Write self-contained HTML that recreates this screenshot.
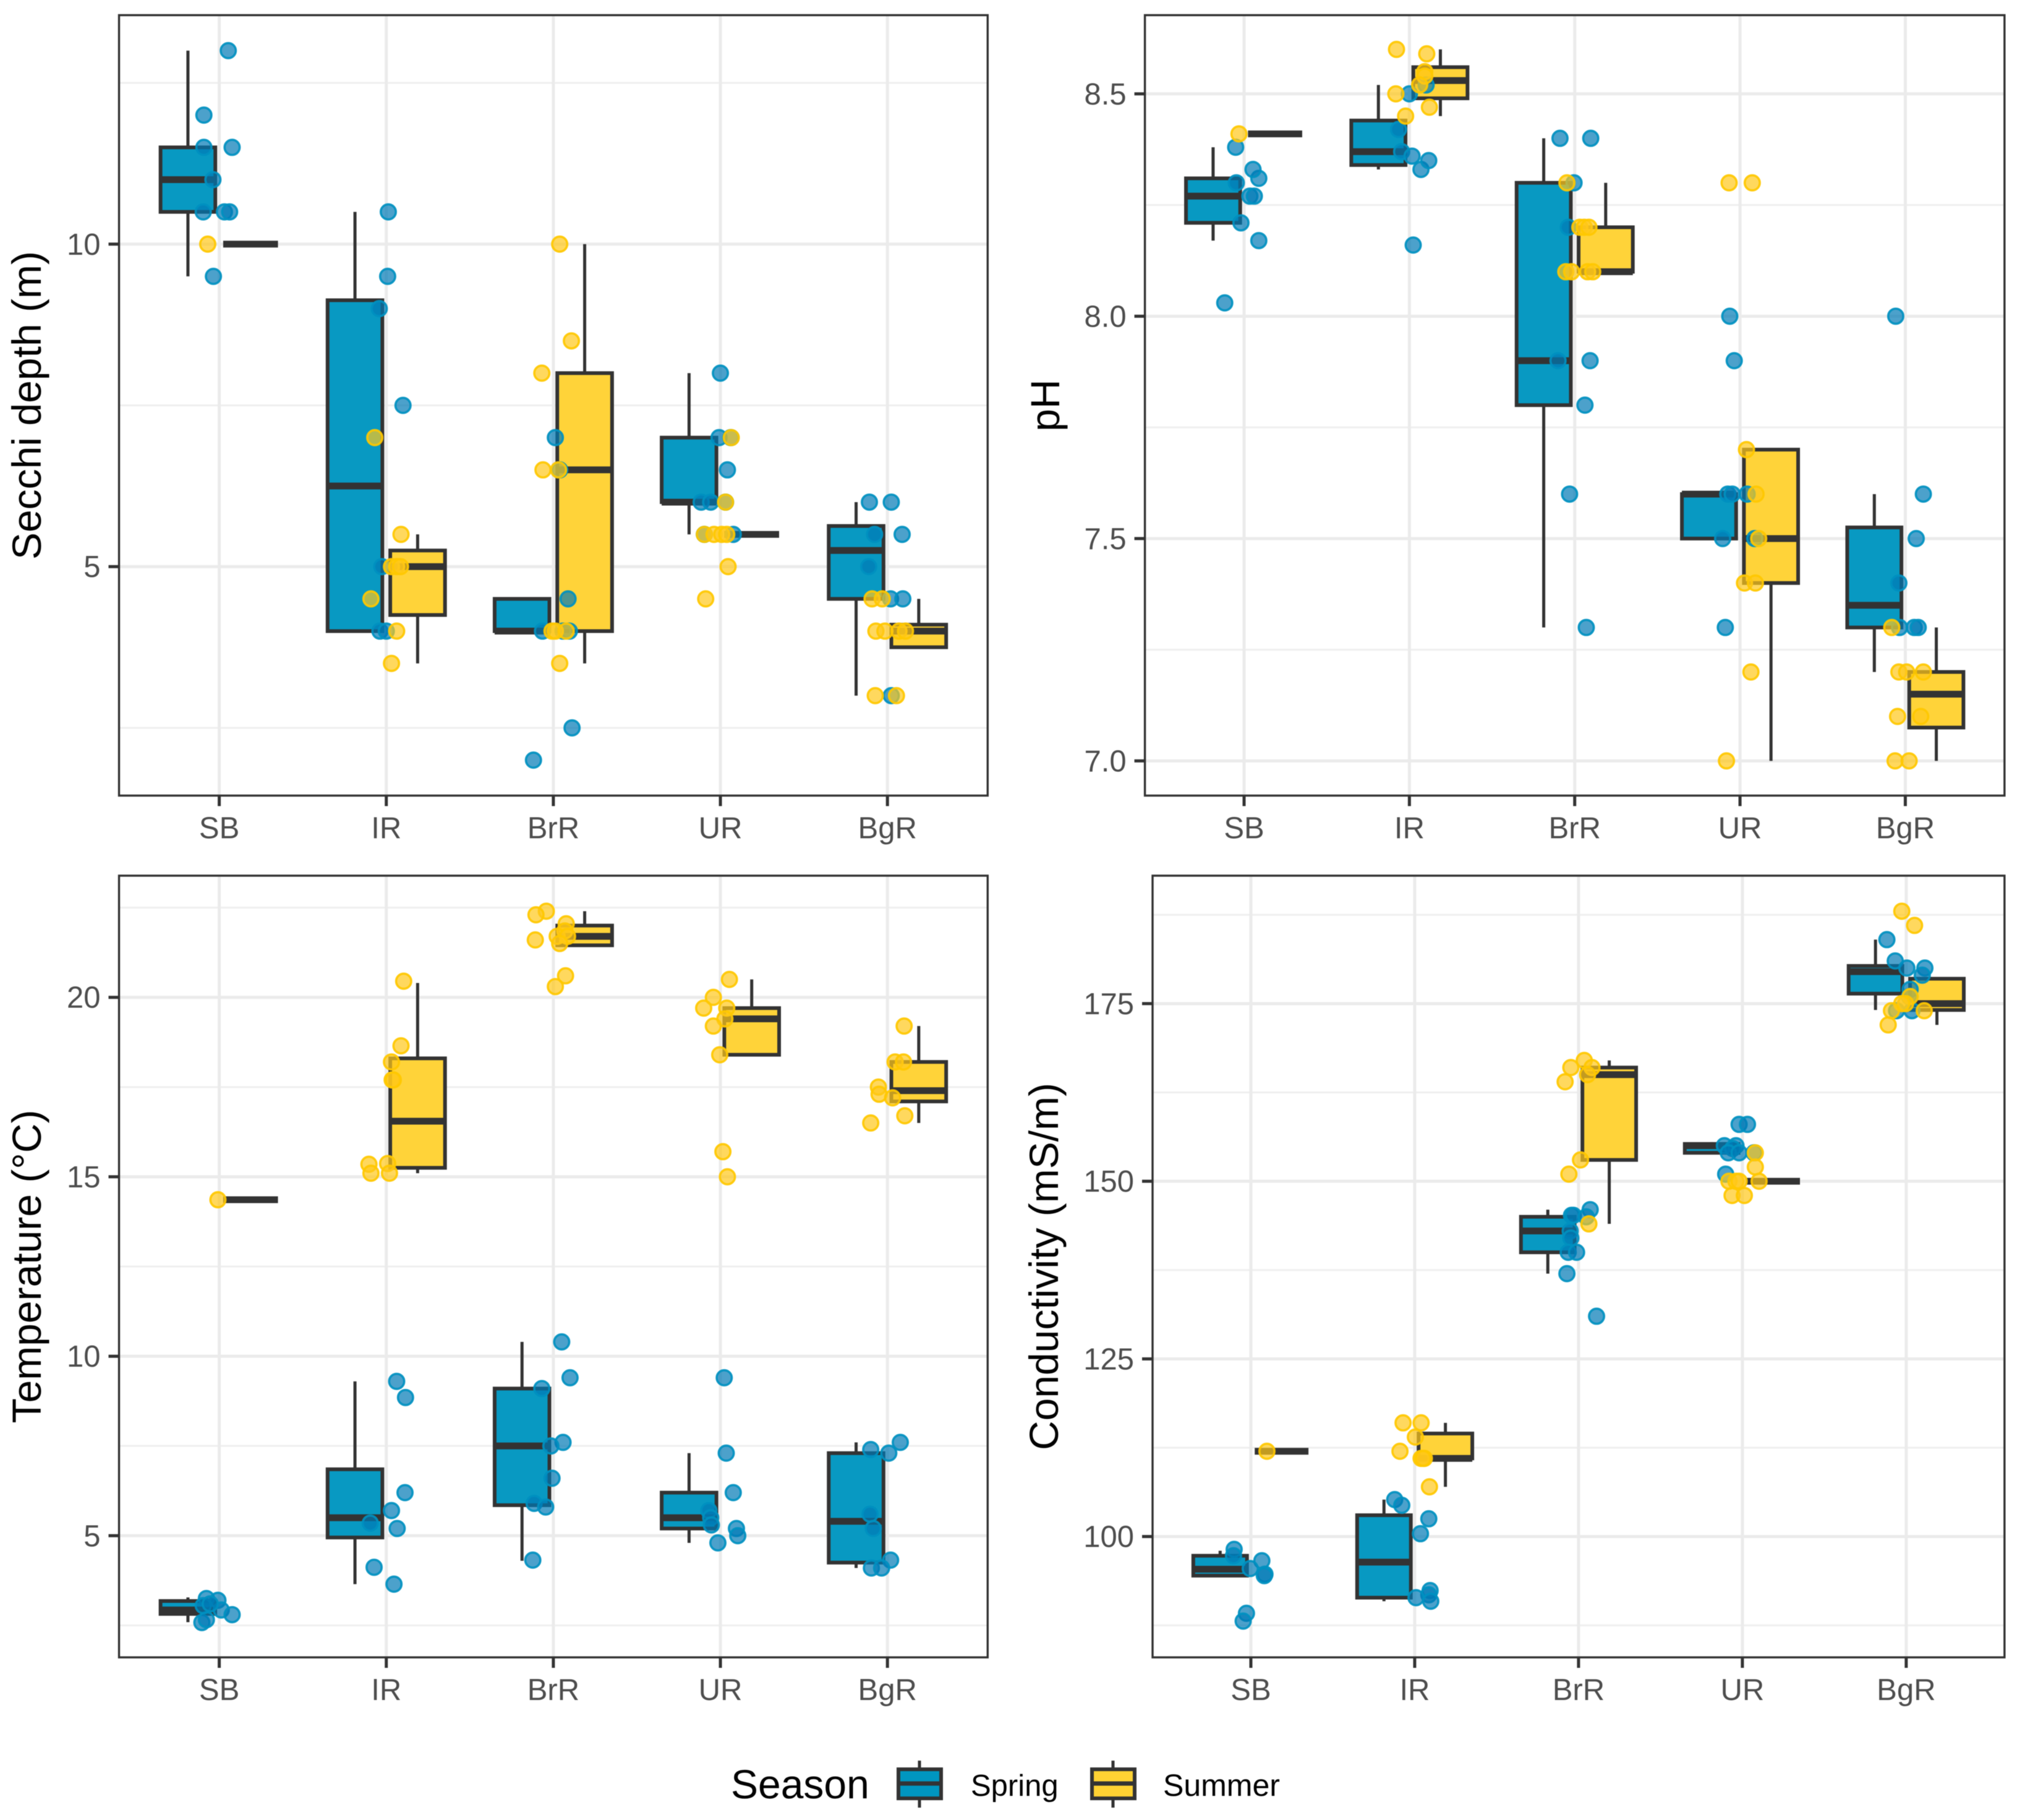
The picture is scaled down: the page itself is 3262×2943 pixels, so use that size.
<!DOCTYPE html>
<html lang="en">
<head>
<meta charset="utf-8">
<title>Water quality by reach and season</title>
<style>
html,body{margin:0;padding:0;background:#fff;}
svg{display:block;filter:blur(0.6px);}
text{font-family:"Liberation Sans",Arial,sans-serif;}
</style>
</head>
<body>
<svg id="chart" xmlns="http://www.w3.org/2000/svg" width="3262" height="2943" viewBox="0 0 3262 2943">
  <rect x="0" y="0" width="3262" height="2943" fill="#ffffff"/>
  <g id="panels"></g>
  <g>
    <text x="1182" y="2908" font-size="66" fill="#000">Season</text>
    <g>
      <line x1="1487" x2="1487" y1="2847" y2="2923" stroke="#333" stroke-width="5"/>
      <rect x="1453" y="2861" width="69" height="47" fill="#0096C0" stroke="#333" stroke-width="6"/>
      <line x1="1453" x2="1522" y1="2884" y2="2884" stroke="#333" stroke-width="7"/>
      <text x="1570" y="2904" font-size="49" fill="#000">Spring</text>
    </g>
    <g>
      <line x1="1800" x2="1800" y1="2847" y2="2923" stroke="#333" stroke-width="5"/>
      <rect x="1766" y="2861" width="69" height="47" fill="#FFD233" stroke="#333" stroke-width="6"/>
      <line x1="1766" x2="1835" y1="2884" y2="2884" stroke="#333" stroke-width="7"/>
      <text x="1881" y="2904" font-size="50" fill="#000">Summer</text>
    </g>
  </g>
</svg>
<script>
const categories = ['SB','IR','BrR','UR','BgR'];

/* Secchi depth */
const secchiDomain = [1.45, 13.55];
const secchiMajorTicks = [5, 10];
const secchiTickLabels = ['5', '10'];
const secchiMinorTicks = [2.5, 7.5, 12.5];
/* box stats per category: [low whisker, q1, median, q3, high whisker] */
const secchiSpringBox = [[9.5,10.5,11,11.5,13],[4,4,6.25,9.13,10.5],[4,4,4,4.5,4.5],[5.5,6,6,7,8],[3,4.5,5.25,5.63,6]];
const secchiSummerBox = [[10,10,10,10,10],[3.5,4.25,5,5.25,5.5],[3.5,4,6.5,8,10],[5.5,5.5,5.5,5.5,5.5],[3.75,3.75,4,4.1,4.5]];
const secchiSpringX = [1.054,.908,.908,1.077,.962,.904,1.031,1.062,.965, 2.012,2.008,1.958,2.1,1.973,1.962,2, 2.881,3.112,3.088,3.012,3.038,2.935,3.096,3.058, 4,3.992,4.062,4.042,3.885,3.942,4.031,3.904,4.077, 4.892,5.023,4.923,5.088,4.888,5.019,5.092,5.023];
const secchiSpringY = [13,12,11.5,11.5,11,10.5,10.5,10.5,9.5, 10.5,9.5,9,7.5,5,4,4, 2,2.5,4.5,7,6.5,4,4,4, 8,7,7,6.5,6,6,6,5.5,5.5, 6,6,5.5,5.5,5,4.5,4.5,3];
const secchiSummerX = [.931, 1.931,2.088,1.908,2.031,2.062,2.085,2.062,2.031, 3.038,3.108,2.931,2.938,3.031,2.992,3.012,3.077,3.038, 4.065,4.031,3.904,3.962,4.008,4.038,4.046,3.912, 4.908,4.969,4.931,4.985,5.069,5.108,4.927,5.054];
const secchiSummerY = [10, 7,5.5,4.5,5,5,5,4,3.5, 10,8.5,8,6.5,6.5,4,4,4,3.5, 7,6,5.5,5.5,5.5,5.5,5,4.5, 4.5,4.5,4,4,4,4,3,3];

/* pH */
const phDomain = [6.922, 8.677];
const phMajorTicks = [7, 7.5, 8, 8.5];
const phTickLabels = ['7.0', '7.5', '8.0', '8.5'];
const phMinorTicks = [7.25, 7.75, 8.25];
const phSpringBox = [[8.17,8.21,8.27,8.31,8.38],[8.33,8.34,8.37,8.44,8.52],[7.3,7.8,7.9,8.3,8.4],[7.5,7.5,7.6,7.6,7.6],[7.2,7.3,7.35,7.525,7.6]];
const phSummerBox = [[8.41,8.41,8.41,8.41,8.41],[8.45,8.49,8.53,8.56,8.6],[8.1,8.1,8.1,8.2,8.3],[7,7.4,7.5,7.7,7.7],[7,7.075,7.15,7.2,7.3]];
const phSpringX = [1.089,.883,.981,1.089,1.054,.953,.949,1.035,1.062, 2,2.101,1.934,1.953,2.016,2.07,2.117,2.023, 2.911,3.097,2.996,2.961,2.899,3.093,3.062,2.969,3.07, 3.938,3.965,3.926,3.953,4.043,3.895,4.089,3.911, 4.942,5.109,5.066,4.961,4.965,5.054,5.078];
const phSpringY = [8.17,8.03,8.21,8.31,8.33,8.3,8.38,8.27,8.27, 8.5,8.52,8.42,8.37,8.36,8.33,8.35,8.16, 8.4,8.4,8.3,8.2,7.9,7.9,7.8,7.6,7.3, 8,7.9,7.6,7.6,7.6,7.5,7.5,7.3, 8,7.6,7.5,7.4,7.3,7.3,7.3];
const phSummerX = [.969, 1.922,2.105,2.093,2.093,2.062,1.918,2.121,1.977, 2.953,3.031,3.058,3.086,2.946,2.981,3.078,3.109, 3.934,4.074,4.039,4.097,4.113,4.027,4.093,4.066,3.918, 4.918,4.961,5.008,5.109,4.953,5.093,4.938,5.023];
const phSummerY = [8.41, 8.6,8.59,8.55,8.54,8.52,8.5,8.47,8.45, 8.3,8.2,8.2,8.2,8.1,8.1,8.1,8.1, 8.3,8.3,7.7,7.6,7.5,7.4,7.4,7.2,7, 7.3,7.2,7.2,7.2,7.1,7.1,7,7];

/* Temperature */
const tempDomain = [1.61, 23.39];
const tempMajorTicks = [5, 10, 15, 20];
const tempTickLabels = ['5', '10', '15', '20'];
const tempMinorTicks = [2.5, 7.5, 12.5, 17.5, 22.5];
const tempSpringBox = [[2.59,2.82,2.93,3.18,3.28],[3.65,4.95,5.5,6.85,9.3],[4.3,5.85,7.5,9.1,10.4],[4.8,5.2,5.5,6.2,7.3],[4.1,4.25,5.4,7.3,7.6]];
const tempSummerBox = [[14.36,14.36,14.36,14.36,14.36],[15.1,15.25,16.55,18.3,20.4],[21.45,21.45,21.7,22,22.4],[18.4,18.4,19.4,19.7,20.5],[16.5,17.1,17.4,18.2,19.2]];
const tempSpringX = [.896,.923,.923,.992,.904,1.012,1.077,.946, 2.062,2.115,2.112,2.031,1.904,2.065,1.927,2.046, 3.05,3.1,2.931,3.058,2.985,2.992,2.885,2.954,2.877, 4.023,4.035,4.077,3.931,3.942,3.946,4.096,4.104,3.985, 5.077,4.9,5.008,4.896,4.915,5.019,4.904,4.965];
const tempSpringY = [2.58,2.66,3.25,3.2,3.05,2.93,2.8,3.1, 9.3,8.85,6.2,5.7,5.35,5.2,4.12,3.65, 10.4,9.4,9.1,7.6,7.5,6.6,5.9,5.8,4.32, 9.4,7.3,6.2,5.7,5.5,5.3,5.2,5,4.8, 7.6,7.4,7.3,5.6,5.2,4.32,4.1,4.1];
const tempSummerX = [.992, 2.104,2.088,2.031,2.035,2.042,1.896,2.008,1.908,2.019, 2.958,2.896,3.077,3.069,3.023,2.892,3.085,3.038,3.073,3.012, 4.054,3.958,3.9,4.038,4.027,3.958,3.996,4.015,4.042, 5.1,5.046,5.096,4.946,4.95,5.031,5.104,4.9];
const tempSummerY = [14.36, 20.45,18.65,18.2,17.7,17.7,15.35,15.37,15.1,15.1, 22.4,22.3,22.05,21.85,21.7,21.6,21.7,21.5,20.6,20.3, 20.5,20,19.7,19.7,19.4,19.2,18.4,15.7,15, 19.2,18.2,18.2,17.5,17.3,17.2,16.7,16.5];

/* Conductivity */
const condDomain = [83, 193];
const condMajorTicks = [100, 125, 150, 175];
const condTickLabels = ['100', '125', '150', '175'];
const condMinorTicks = [87.5, 112.5, 137.5, 162.5, 187.5];
const condSpringBox = [[94.5,94.5,95.4,97.3,98],[90.9,91.4,96.4,103,105.2],[137,140,143,145,146],[154,154,155,155.25,155.5],[174.1,176.4,179.5,180.3,184]];
const condSummerBox = [[112,112,112,112,112],[107,111,111,114.5,116],[144,153,165,166,167],[150,150,150,150,150],[172,174.1,175,178.5,178.5]];
const condSpringX = [.898,.894,1.067,.996,1.086,1.082,.973,.953, 1.878,1.921,2.086,2.035,2.094,2.086,2.008,2.098, 3.071,2.957,2.969,3.047,2.949,2.953,2.937,2.988,2.929,3.11, 3.98,4.031,3.89,3.961,3.941,3.914,3.98,4.071,3.898, 4.882,4.933,5.004,5.114,5.098,5.024,5.02,4.941,5.035];
const condSpringY = [98.2,97.3,96.6,95.5,94.7,94.5,89.2,88.1, 105.2,104.4,102.5,100.4,92.4,91.8,91.4,90.9, 146,145.2,145.2,145,143,142,140,140,137,131, 158,158,155,155,154.6,154,154,154,151, 184,181,180,180,179,177,176,174,174];
const condSummerX = [1.098, 1.929,2.039,2.004,1.91,2.039,2.059,2.051,2.09, 3.035,2.953,3.082,3.055,2.918,3.012,2.941,3.063, 4.079,4.079,3.918,3.961,3.98,4.102,3.937,4.012, 4.973,5.051,5.024,4.996,4.973,4.91,5.11,4.89];
const condSummerY = [112, 116,116,114,112,111,111,111,107, 167,166,166,165,164,153,151,144, 154,152,150,150,150,150,148,148, 188,186,176,175,175,174,174,172];

const NS = 'http://www.w3.org/2000/svg';
const SPRING_BOX = '#0096C0', SUMMER_BOX = '#FFD233';
const DODGE = 0.1875, BOX_WIDTH = 0.328;
const root = document.getElementById('panels');

function make(parent, tag, attrs) {
  const el = document.createElementNS(NS, tag);
  for (const k in attrs) el.setAttribute(k, attrs[k]);
  parent.appendChild(el);
  return el;
}

function drawBoxes(g, stats, side, fill, season, xScale, yScale, unit) {
  stats.forEach(function (s, i) {
    const cx = xScale(i + 1 + side * DODGE);
    const w = BOX_WIDTH * unit;
    const up = make(g, 'line', {x1: cx, x2: cx, y1: yScale(s[3]), y2: yScale(s[4]), stroke: '#333', 'stroke-width': 5});
    
    
    const dn = make(g, 'line', {x1: cx, x2: cx, y1: yScale(s[1]), y2: yScale(s[0]), stroke: '#333', 'stroke-width': 5});
    
    
    const box = make(g, 'rect', {x: cx - w / 2, y: yScale(s[3]), width: w, height: yScale(s[1]) - yScale(s[3]), fill: fill, 'fill-opacity': 0.97, stroke: '#333', 'stroke-width': 6});
    
    
    const med = make(g, 'line', {x1: cx - w / 2, x2: cx + w / 2, y1: yScale(s[2]), y2: yScale(s[2]), stroke: '#333', 'stroke-width': 11});
    
    
  });
}

function drawPoints(g, xs, ys, fill, ring, season, xScale, yScale) {
  ys.forEach(function (v, i) {
    const c = make(g, 'circle', {cx: xScale(xs[i]), cy: yScale(v), r: 12.2, fill: fill, 'fill-opacity': 0.7, stroke: ring, 'stroke-opacity': 0.92, 'stroke-width': 3.6});
    
    
  });
}

function drawPanel(p) {
  const g = make(root, 'g', {});
  
  
  const unit = (p.right - p.left) / 5.2;
  const xScale = function (v) { return p.left + (v - 0.4) * unit; };
  const yScale = function (v) { return p.top + (p.domain[1] - v) / (p.domain[1] - p.domain[0]) * (p.bottom - p.top); };

  p.minor.forEach(function (v) {
    const l = make(g, 'line', {x1: p.left, x2: p.right, y1: yScale(v), y2: yScale(v), stroke: '#efefef', 'stroke-width': 3});
    
    
  });
  p.major.forEach(function (v) {
    const l = make(g, 'line', {x1: p.left, x2: p.right, y1: yScale(v), y2: yScale(v), stroke: '#ebebeb', 'stroke-width': 5});
    
    
  });
  categories.forEach(function (c, i) {
    const l = make(g, 'line', {x1: xScale(i + 1), x2: xScale(i + 1), y1: p.top, y2: p.bottom, stroke: '#ebebeb', 'stroke-width': 5});
    
    
  });

  drawBoxes(g, p.springBox, -1, SPRING_BOX, 'spring', xScale, yScale, unit);
  drawBoxes(g, p.summerBox, 1, SUMMER_BOX, 'summer', xScale, yScale, unit);
  drawPoints(g, p.springX, p.springY, '#0079B5', '#0090C0', 'spring', xScale, yScale);
  drawPoints(g, p.summerX, p.summerY, '#FFC81A', '#FFC800', 'summer', xScale, yScale);

  const border = make(g, 'rect', {x: p.left, y: p.top, width: p.right - p.left, height: p.bottom - p.top, fill: 'none', stroke: '#333', 'stroke-width': 3.4});
  
  

  p.major.forEach(function (v, i) {
    const t = make(g, 'line', {x1: p.left - 17, x2: p.left, y1: yScale(v), y2: yScale(v), stroke: '#333', 'stroke-width': 5});
    
    
    const lab = make(g, 'text', {x: p.left - 30, y: yScale(v) + 17, 'text-anchor': 'end', 'font-size': 49, fill: '#4d4d4d'});
    lab.textContent = p.labels[i];
    
    
  });
  categories.forEach(function (c, i) {
    const t = make(g, 'line', {x1: xScale(i + 1), x2: xScale(i + 1), y1: p.bottom, y2: p.bottom + 17, stroke: '#333', 'stroke-width': 5});
    
    
    const lab = make(g, 'text', {x: xScale(i + 1), y: p.bottom + 69, 'text-anchor': 'middle', 'font-size': 49, fill: '#4d4d4d'});
    lab.textContent = c;
    
    
  });

  const cy = (p.top + p.bottom) / 2;
  const title = make(g, 'text', {transform: 'translate(' + p.titleX + ',' + cy + ') rotate(-90)', 'text-anchor': 'middle', 'font-size': 66, fill: '#000'});
  title.textContent = p.title;
  
  
}

drawPanel({name: 'secchi', title: 'Secchi depth (m)', titleX: 66, left: 192.5, right: 1597.3, top: 24.5, bottom: 1286.5,
  domain: secchiDomain, major: secchiMajorTicks, labels: secchiTickLabels, minor: secchiMinorTicks,
  springBox: secchiSpringBox, summerBox: secchiSummerBox, springX: secchiSpringX, springY: secchiSpringY, summerX: secchiSummerX, summerY: secchiSummerY});
drawPanel({name: 'ph', title: 'pH', titleX: 1713, left: 1851.6, right: 3241.8, top: 24.5, bottom: 1286.5,
  domain: phDomain, major: phMajorTicks, labels: phTickLabels, minor: phMinorTicks,
  springBox: phSpringBox, summerBox: phSummerBox, springX: phSpringX, springY: phSpringY, summerX: phSummerX, summerY: phSummerY});
drawPanel({name: 'temperature', title: 'Temperature (°C)', titleX: 66, left: 192.5, right: 1597.3, top: 1416, bottom: 2680,
  domain: tempDomain, major: tempMajorTicks, labels: tempTickLabels, minor: tempMinorTicks,
  springBox: tempSpringBox, summerBox: tempSummerBox, springX: tempSpringX, springY: tempSpringY, summerX: tempSummerX, summerY: tempSummerY});
drawPanel({name: 'conductivity', title: 'Conductivity (mS/m)', titleX: 1711, left: 1864, right: 3241.8, top: 1416, bottom: 2680,
  domain: condDomain, major: condMajorTicks, labels: condTickLabels, minor: condMinorTicks,
  springBox: condSpringBox, summerBox: condSummerBox, springX: condSpringX, springY: condSpringY, summerX: condSummerX, summerY: condSummerY});
</script>
</body>
</html>
